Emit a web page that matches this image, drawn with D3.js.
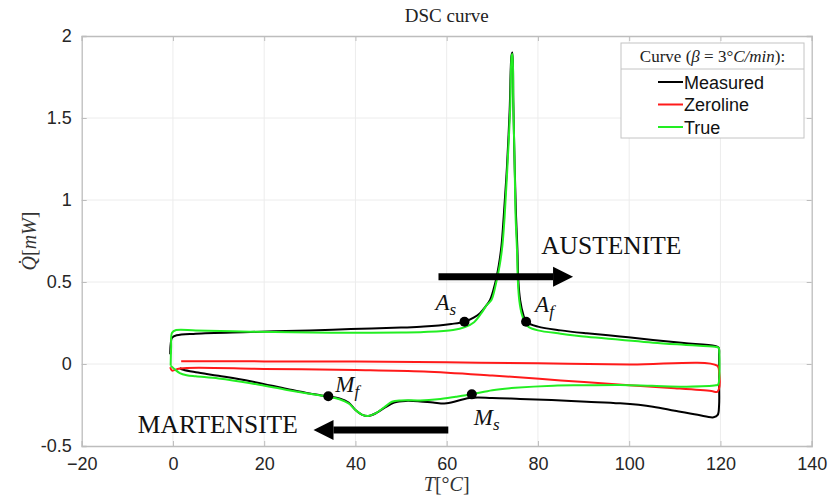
<!DOCTYPE html>
<html>
<head>
<meta charset="utf-8">
<script src="https://cdn.jsdelivr.net/npm/d3@7"></script>
<style>
  body { margin: 0; background: #fff; }
  svg { display: block; }
  .tick text { font-family: "Liberation Sans", Arial, sans-serif; font-size: 18px; fill: #262626; }
</style>
</head>
<body>
<div id="chart"></div>
<script>
// ticks
var xTicks = [-20, 0, 20, 40, 60, 80, 100, 120, 140];
var yTicks = [-0.5, 0, 0.5, 1, 1.5, 2];

// measured DSC signal [T, Q] : heating branch then cooling branch
var measured = [
  [-0.6, 0.06], [-0.5, 0.12], [-0.2, 0.16], [0.8, 0.175], [5, 0.185], [17, 0.195], [30, 0.205],
  [39, 0.213], [50, 0.222], [55, 0.228], [61, 0.244], [63.9, 0.258], [66, 0.285], [67.3, 0.31],
  [68.5, 0.35], [69.5, 0.39], [70.6, 0.49], [71.4, 0.6], [72, 0.72], [72.5, 0.9], [73.2, 1.2],
  [73.8, 1.55], [74.2, 1.88], [74.4, 1.9], [74.6, 1.6], [74.9, 1.2], [75.2, 0.9], [75.5, 0.7],
  [75.7, 0.51], [76.1, 0.39], [76.8, 0.3], [77.4, 0.258], [80, 0.228], [85, 0.205], [90.7, 0.187],
  [98, 0.168], [105.2, 0.146], [112, 0.128], [118.8, 0.11], [119.6, 0.1],
  [119.7, 0.05], [119.7, -0.1], [119.7, -0.25], [119.4, -0.31], [118.5, -0.325], [115, -0.31],
  [110, -0.285], [105.2, -0.26], [98, -0.24], [90.7, -0.23], [83, -0.22], [76.1, -0.213],
  [70, -0.207], [65, -0.207], [60, -0.24], [57, -0.235], [54.2, -0.228], [51, -0.225],
  [48.5, -0.235], [46.5, -0.265], [44.5, -0.3], [42.8, -0.317], [41.5, -0.31], [40, -0.28],
  [38.5, -0.235], [36.5, -0.21], [34, -0.198], [30, -0.18], [25, -0.152], [17, -0.105],
  [10, -0.072], [5, -0.05], [2.3, -0.035], [1.5, -0.026]
];

// zeroline [T, Q]
var zeroline = [
  [1.8, 0.017], [20, 0.016], [40, 0.015], [60, 0.01], [80, 0.004], [100, -0.003], [119.3, -0.01],
  [119.7, -0.05], [119.7, -0.15], [119.3, -0.17], [118, -0.165], [110, -0.148], [100, -0.13],
  [85, -0.1], [70, -0.07], [55, -0.045], [40, -0.036], [20, -0.03], [1.5, -0.027],
  [-0.2, -0.04], [-0.6, -0.02]
];

// true (baseline corrected) signal [T, Q]
var trueCurve = [
  [-0.5, -0.01], [-0.4, 0.1], [-0.2, 0.19], [0.7, 0.207], [5, 0.205], [17, 0.197], [30, 0.192],
  [38.8, 0.19], [50, 0.192], [55, 0.195], [61.4, 0.207], [64, 0.225], [66, 0.255], [67.6, 0.31],
  [68.8, 0.36], [69.8, 0.39], [70.8, 0.49], [71.6, 0.6], [72.2, 0.72], [72.7, 0.9], [73.3, 1.2],
  [73.9, 1.55], [74.25, 1.88], [74.4, 1.89], [74.6, 1.6], [74.9, 1.2], [75.1, 0.9], [75.4, 0.7],
  [75.6, 0.51], [75.9, 0.39], [76.5, 0.3], [77.2, 0.25], [78, 0.225], [80, 0.205], [85, 0.185],
  [90.7, 0.166], [98, 0.148], [105.2, 0.13], [112, 0.117], [118.8, 0.105], [119.6, 0.1],
  [119.7, 0.09], [119.7, -0.1], [119.5, -0.125], [119, -0.13], [112.6, -0.138], [105, -0.133],
  [98, -0.128], [90, -0.13], [83.4, -0.132], [75, -0.145], [70, -0.16], [65.5, -0.185],
  [62, -0.2], [58, -0.215], [54.2, -0.222], [50, -0.222], [48, -0.23], [46.5, -0.26],
  [44.5, -0.3], [42.8, -0.317], [41.5, -0.31], [40, -0.28], [38.5, -0.24], [36.5, -0.215],
  [34, -0.2], [30, -0.182], [25, -0.158], [17, -0.117], [10, -0.088], [5, -0.075], [3, -0.068],
  [1.5, -0.055], [0.5, -0.035], [-0.5, -0.01]
];

// transformation temperatures
var transPoints = [
  { name: 'A', sub: 's', T: 63.9, Q: 0.258 },
  { name: 'A', sub: 'f', T: 77.4, Q: 0.258 },
  { name: 'M', sub: 'f', T: 34.05, Q: -0.197 },
  { name: 'M', sub: 's', T: 65.5, Q: -0.185 }
];
// label offsets (px) from each point
var labelOffsets = [[-29, -12], [9, -10], [7, -4], [2, 31]];

// phase arrows, in data units
var arrows = [
  { label: 'AUSTENITE', from: 58.2, to: 87.7, Q: 0.532, textT: 80.7, textQ: 0.67 },
  { label: 'MARTENSITE', from: 60.35, to: 30.8, Q: -0.402, textT: -7.7, textQ: -0.42 }
];

var series = [
  { name: 'Measured', data: measured, color: '#000000' },
  { name: 'Zeroline', data: zeroline, color: '#ff1a1a' },
  { name: 'True', data: trueCurve, color: '#22ee22' }
];

var W = 828, H = 498;
var margin = { top: 36, right: 16.3, bottom: 52, left: 81.7 };
var width = W - margin.left - margin.right;
var height = H - margin.top - margin.bottom;

var svg = d3.select('#chart').append('svg').attr('width', W).attr('height', H);
var g = svg.append('g').attr('transform', 'translate(' + margin.left + ',' + margin.top + ')');

var x = d3.scaleLinear().domain([-20, 140]).range([0, width]);
var y = d3.scaleLinear().domain([-0.5, 2]).range([height, 0]);

// grid lines
g.append('g').attr('class', 'grid')
  .selectAll('line').data(xTicks.slice(1, -1)).enter().append('line')
  .attr('x1', function (d) { return x(d); }).attr('x2', function (d) { return x(d); })
  .attr('y1', 0).attr('y2', height)
  .attr('stroke', '#ececec').attr('stroke-width', 1);
g.append('g').attr('class', 'grid')
  .selectAll('line').data(yTicks.slice(1, -1)).enter().append('line')
  .attr('y1', function (d) { return y(d); }).attr('y2', function (d) { return y(d); })
  .attr('x1', 0).attr('x2', width)
  .attr('stroke', '#ececec').attr('stroke-width', 1);

// axes
var axisColor = '#bdbdbd';
var xAxis = g.append('g').attr('transform', 'translate(0,' + height + ')')
  .call(d3.axisBottom(x).tickValues(xTicks).tickSize(-5).tickPadding(11).tickFormat(d3.format('d')));
var yAxis = g.append('g')
  .call(d3.axisLeft(y).tickValues(yTicks).tickSize(-5).tickPadding(10).tickFormat(function (d) { return d; }));
g.append('g')
  .call(d3.axisTop(x).tickValues(xTicks).tickSize(-5).tickFormat(''));
g.append('g').attr('transform', 'translate(' + width + ',0)')
  .call(d3.axisRight(y).tickValues(yTicks).tickSize(-5).tickFormat(''));
g.selectAll('.domain').attr('stroke', axisColor).attr('stroke-width', 1.3);
g.selectAll('.tick line').attr('stroke', axisColor);
xAxis.selectAll('text').attr('dy', '0.71em');

// curves
var line = d3.line()
  .x(function (d) { return x(d[0]); })
  .y(function (d) { return y(d[1]); })
  .curve(d3.curveCatmullRom.alpha(0.5));

g.selectAll('.curve').data(series).enter().append('path')
  .attr('class', 'curve')
  .attr('d', function (d) { return line(d.data); })
  .attr('fill', 'none')
  .attr('stroke', function (d) { return d.color; })
  .attr('stroke-width', 2)
  .attr('stroke-linejoin', 'round');

// arrows
arrows.forEach(function (a) {
  var x0 = x(a.from), x1 = x(a.to), yy = y(a.Q);
  var dir = x1 > x0 ? 1 : -1;
  var head = 20;
  g.append('line')
    .attr('x1', x0).attr('x2', x1 - dir * head)
    .attr('y1', yy).attr('y2', yy)
    .attr('stroke', '#000').attr('stroke-width', 7);
  g.append('path')
    .attr('d', 'M' + x1 + ',' + yy + 'L' + (x1 - dir * head) + ',' + (yy - 10) +
      'L' + (x1 - dir * head) + ',' + (yy + 10) + 'Z')
    .attr('fill', '#000');
  g.append('text')
    .attr('x', x(a.textT)).attr('y', y(a.textQ))
    .attr('font-family', '"Liberation Serif", "Times New Roman", serif')
    .attr('font-size', 25.5)
    .attr('fill', '#111')
    .text(a.label);
});

// transformation points
var pts = g.selectAll('.tp').data(transPoints).enter().append('g').attr('class', 'tp');
pts.append('circle')
  .attr('cx', function (d) { return x(d.T); })
  .attr('cy', function (d) { return y(d.Q); })
  .attr('r', 5).attr('fill', '#000');
var lbl = pts.append('text')
  .attr('x', function (d, i) { return x(d.T) + labelOffsets[i][0]; })
  .attr('y', function (d, i) { return y(d.Q) + labelOffsets[i][1]; })
  .attr('font-family', '"Liberation Serif", "Times New Roman", serif')
  .attr('font-style', 'italic')
  .attr('font-size', 23)
  .attr('fill', '#111');
lbl.append('tspan').text(function (d) { return d.name; });
lbl.append('tspan').attr('dy', 5).attr('font-size', 17).text(function (d) { return d.sub; });

// title and axis labels
svg.append('text')
  .attr('x', margin.left + width / 2).attr('y', 22)
  .attr('text-anchor', 'middle')
  .attr('font-family', '"Liberation Serif", "Times New Roman", serif')
  .attr('font-size', 19).attr('fill', '#222')
  .text('DSC curve');

var xl = svg.append('text')
  .attr('x', margin.left + width / 2).attr('y', 491)
  .attr('text-anchor', 'middle')
  .attr('font-family', '"Liberation Serif", "Times New Roman", serif')
  .attr('font-size', 20).attr('fill', '#333');
xl.append('tspan').attr('font-style', 'italic').text('T');
xl.append('tspan').text('[°');
xl.append('tspan').attr('font-style', 'italic').text('C');
xl.append('tspan').text(']');

var yl = svg.append('text')
  .attr('transform', 'translate(36,' + (margin.top + height / 2) + ') rotate(-90)')
  .attr('text-anchor', 'middle')
  .attr('font-family', '"Liberation Serif", "Times New Roman", serif')
  .attr('font-size', 20).attr('fill', '#333');
yl.append('tspan').attr('font-style', 'italic').text('Q\u0307');
yl.append('tspan').text('[');
yl.append('tspan').attr('font-style', 'italic').text('mW');
yl.append('tspan').text(']');

// legend
var lg = svg.append('g').attr('transform', 'translate(621,43)');
lg.append('rect').attr('width', 183).attr('height', 95)
  .attr('fill', '#fff').attr('stroke', '#c4c4c4').attr('stroke-width', 1);
lg.append('line').attr('x1', 0).attr('x2', 183).attr('y1', 26).attr('y2', 26)
  .attr('stroke', '#c4c4c4');
var lt = lg.append('text').attr('x', 91.5).attr('y', 19).attr('text-anchor', 'middle')
  .attr('font-family', '"Liberation Serif", "Times New Roman", serif')
  .attr('font-size', 17).attr('fill', '#222');
lt.append('tspan').text('Curve (');
lt.append('tspan').attr('font-style', 'italic').text('β');
lt.append('tspan').text(' = 3°');
lt.append('tspan').attr('font-style', 'italic').text('C/min');
lt.append('tspan').text('):');

var items = lg.selectAll('.item').data(series).enter().append('g')
  .attr('transform', function (d, i) { return 'translate(0,' + (39 + i * 22.5) + ')'; });
items.append('line').attr('x1', 37).attr('x2', 62).attr('y1', 0).attr('y2', 0)
  .attr('stroke', function (d) { return d.color; }).attr('stroke-width', 2);
items.append('text').attr('x', 63).attr('y', 6.5)
  .attr('font-family', '"Liberation Sans", Arial, sans-serif')
  .attr('font-size', 18).attr('fill', '#111')
  .text(function (d) { return d.name; });
</script>
</body>
</html>
